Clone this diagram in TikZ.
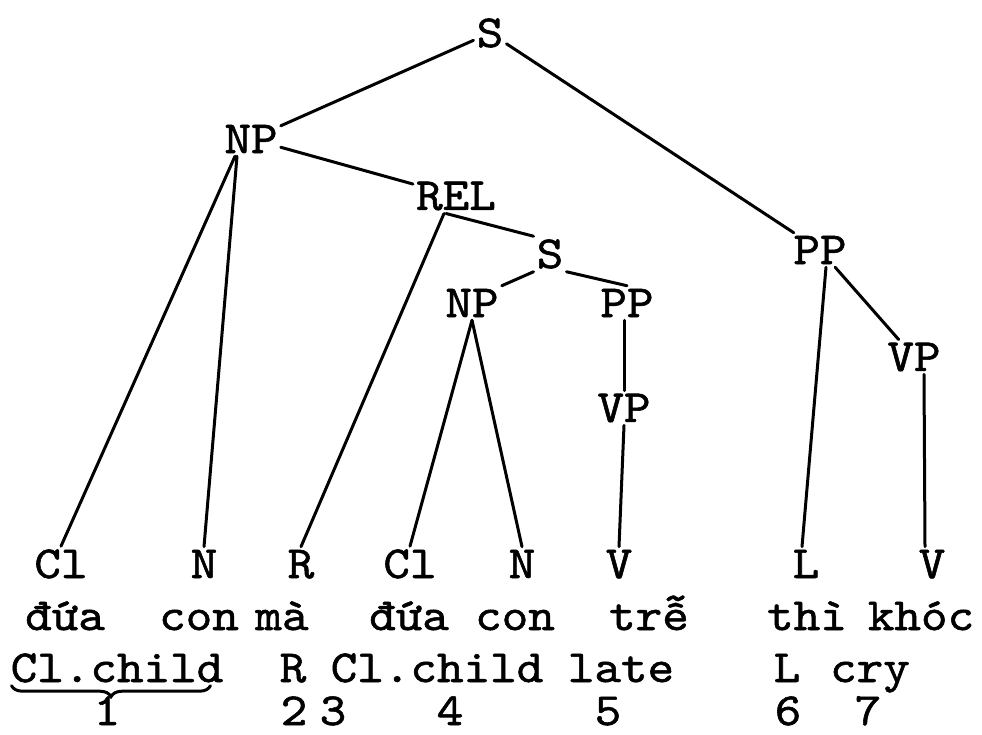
\documentclass[tikz,border=0pt]{standalone}
\usepackage{fontspec}
\newfontfamily\tw[Extension=.otf,FakeStretch=1.1,FakeBold=1.2]{lmmono10-regular}
\usetikzlibrary{decorations.pathreplacing}
\begin{document}
\begin{tikzpicture}[x=1pt,y=-1pt,
  lbl/.style={font=\tw\fontsize{46}{50}\selectfont, inner sep=3pt},
  wd/.style={lbl, anchor=base},
  num/.style={wd, inner sep=1pt},
  edge/.style={line width=3pt, line cap=round}]
\fill[white] (0,0) rectangle (982,735);
\useasboundingbox (0,0) rectangle (982,735);
% tree nodes
\node[lbl] (s0)  at (490,33)  {S};
\node[lbl] (np0) at (251,139) {NP};
\node[lbl] (rel) at (456,196) {REL};
\node[lbl] (s1)  at (550,254) {S};
\node[lbl] (np1) at (472,303) {NP};
\node[lbl] (pp1) at (627,303) {PP};
\node[lbl] (vp1) at (624,408) {VP};
\node[lbl] (pp0) at (820,250) {PP};
\node[lbl] (vp0) at (914,357) {VP};
% categories
\node[wd] (c1) at (61,578)  {Cl};
\node[wd] (n1) at (204,578) {N};
\node[wd] (r)  at (301,578) {R};
\node[wd] (c2) at (410,578) {Cl};
\node[wd] (n2) at (522,578) {N};
\node[wd] (v1) at (619,578) {V};
\node[wd] (l)  at (806,578) {L};
\node[wd] (v2) at (932,578) {V};
% Vietnamese words
\node[wd] (w1) at (65,630)  {đứa};
\node[wd] (w2) at (199,630) {con};
\node[wd] (w3) at (282,630) {mà};
\node[wd] (w4) at (409,630) {đứa};
\node[wd] (w5) at (515,630) {con};
\node[wd] (w6) at (649,630) {trễ};
\node[wd] (w7) at (807,630) {thì};
\node[wd] (w8) at (921,630) {khóc};
% glosses
\node[wd] (g1) at (117,682) {Cl.child};
\node[wd] (g2) at (293,682) {R};
\node[wd] (g3) at (437,682) {Cl.child};
\node[wd] (g4) at (621,682) {late};
\node[wd] (g5) at (787,682) {L};
\node[wd] (g6) at (870,682) {cry};
% numbers
\node[num] (k1) at (107,725) {1};
\node[num] (k2) at (294,725) {2};
\node[num] (k3) at (333,725) {3};
\node[num] (k4) at (450,725) {4};
\node[num] (k5) at (608,725) {5};
\node[num] (k6) at (788,725) {6};
\node[num] (k7) at (868,725) {7};
% edges
\draw[edge] (s0) -- (np0);
\draw[edge] (s0) -- (pp0);
\draw[edge] (np0) -- (rel);
\draw[edge] ([xshift=-16pt]np0.south) -- (c1.north);
\draw[edge] ([xshift=-14pt]np0.south) -- (n1.north);
\draw[edge] ([xshift=-12pt]rel.south) -- (r.north);
\draw[edge] ([xshift=-10pt]rel.south) -- (s1.north west);
\draw[edge] (s1.south west) -- (np1.north east);
\draw[edge] (s1.south east) -- (pp1.north);
\draw[edge] (np1.south) -- (c2.north);
\draw[edge] (np1.south) -- (n2.north);
\draw[edge] ([xshift=-3pt]pp1.south) -- (vp1.north);
\draw[edge] (vp1.south) -- (v1.north);
\draw[edge] ([xshift=6pt]pp0.south) -- ([xshift=-4pt]l.north);
\draw[edge] (pp0) -- (vp0);
\draw[edge] ([xshift=10pt]vp0.south) -- ([xshift=-7pt]v2.north);
% brace
\draw[edge, decorate, decoration={brace, mirror, amplitude=11pt}]
  ([xshift=4pt]g1.south west) -- ([xshift=-16pt]g1.south east);
\end{tikzpicture}
\end{document}
